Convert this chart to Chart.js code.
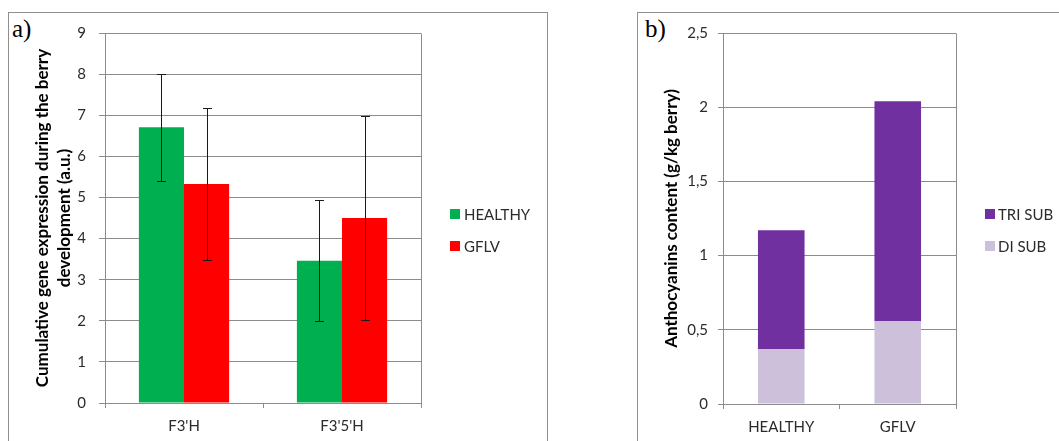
<!DOCTYPE html>
<html>
<head>
<meta charset="utf-8">
<script src="https://cdn.jsdelivr.net/npm/chart.js@4/dist/chart.umd.min.js"></script>
<style>
  html, body { margin: 0; padding: 0; background: #fff; }
  #fig { position: relative; width: 1059px; height: 441px; overflow: hidden; background: #fff; }
  .panel { position: absolute; border: 1px solid #8f8f8f; box-sizing: border-box; }
  #panelA { left: 8px; top: 12px; width: 540px; height: 440px; }
  #panelB { left: 637px; top: 12px; width: 440px; height: 440px; }
  .tag { position: absolute; font-family: "Liberation Serif", "Times New Roman", serif;
         font-size: 25px; line-height: 25px; color: #000; }
  #chartA { position: absolute; left: 0; top: 0; }
  #chartB { position: absolute; left: 560px; top: 0; }
</style>
</head>
<body>
<div id="fig">
  <div class="panel" id="panelA"></div>
  <div class="panel" id="panelB"></div>
  <div class="tag" style="left:12px; top:16px;">a)</div>
  <div class="tag" style="left:645px; top:16px;">b)</div>
  <canvas id="chartA" width="560" height="441"></canvas>
  <canvas id="chartB" width="499" height="441"></canvas>
</div>
<script>
// Panel a: cumulative expression of the two hydroxylase genes
const categoriesA = ["F3'H", "F3'5'H"];
const healthyExpr = [6.71, 3.46];
const healthyErr  = [1.30, 1.47];
const gflvExpr    = [5.33, 4.50];
const gflvErr     = [1.85, 2.49];
const yTicksA     = ['0', '1', '2', '3', '4', '5', '6', '7', '8', '9'];

// Panel b: anthocyanin content split by substitution type
const categoriesB = ['HEALTHY', 'GFLV'];
const diSub       = [0.37, 0.56];
const triSub      = [0.80, 1.48];
const yTicksB     = ['0', '0,5', '1', '1,5', '2', '2,5'];

const GRID = '#8c8c8c';
const TICK_TEXT = '#2b2b2b';
const FONT = 'Lato, "Open Sans", sans-serif';
const TITLE_FONT = { family: FONT, size: 17, weight: 'bold', lineHeight: 22 / 17 };

// Vertical error bars with caps, taken from each dataset's `errors` array
const errorBars = {
  id: 'errorBars',
  afterDatasetsDraw(chart) {
    const { ctx } = chart;
    const yScale = chart.scales.y;
    chart.data.datasets.forEach((ds, i) => {
      if (!ds.errors) return;
      chart.getDatasetMeta(i).data.forEach((bar, j) => {
        const v = ds.data[j], e = ds.errors[j];
        const x = Math.round(bar.x) + 0.5;
        const top = Math.round(yScale.getPixelForValue(v + e)) + 0.5;
        const bot = Math.round(yScale.getPixelForValue(v - e)) + 0.5;
        ctx.save();
        ctx.strokeStyle = '#1a1a1a';
        ctx.lineWidth = 1;
        ctx.beginPath();
        ctx.moveTo(x, top); ctx.lineTo(x, bot);
        ctx.moveTo(x - 4.5, top); ctx.lineTo(x + 4.5, top);
        ctx.moveTo(x - 4.5, bot); ctx.lineTo(x + 4.5, bot);
        ctx.stroke();
        ctx.restore();
      });
    });
  }
};

// Right-hand edge of the plot area
const plotFrame = {
  id: 'plotFrame',
  beforeDatasetsDraw(chart) {
    const { ctx, chartArea: a } = chart;
    const x = Math.round(a.right) + 0.5;
    ctx.save();
    ctx.strokeStyle = GRID;
    ctx.lineWidth = 1;
    ctx.beginPath();
    ctx.moveTo(x, Math.round(a.top) + 0.5);
    ctx.lineTo(x, Math.round(a.bottom) + 0.5);
    ctx.stroke();
    ctx.restore();
  }
};

// Legend with square swatches placed beside the plot
const sideLegend = {
  id: 'sideLegend',
  afterDraw(chart, args, o) {
    const { ctx } = chart;
    const items = chart.data.datasets.map(d => ({ label: d.label, color: d.backgroundColor }));
    if (o.reverse) items.reverse();
    ctx.save();
    ctx.font = '15px ' + FONT;
    ctx.textBaseline = 'middle';
    ctx.textAlign = 'left';
    items.forEach((it, i) => {
      const cy = o.y + i * o.gap;
      ctx.fillStyle = it.color;
      ctx.fillRect(o.x, Math.round(cy - o.box / 2), o.box, o.box);
      ctx.fillStyle = TICK_TEXT;
      ctx.fillText(it.label, o.textX, cy + 1);
    });
    ctx.restore();
  }
};

function build() {
  new Chart(document.getElementById('chartA'), {
    type: 'bar',
    data: {
      labels: categoriesA,
      datasets: [
        { label: 'HEALTHY', data: healthyExpr, errors: healthyErr, backgroundColor: '#00b050',
          categoryPercentage: 0.571, barPercentage: 1.0, borderWidth: 0 },
        { label: 'GFLV', data: gflvExpr, errors: gflvErr, backgroundColor: '#ff0000',
          categoryPercentage: 0.571, barPercentage: 1.0, borderWidth: 0 }
      ]
    },
    options: {
      responsive: false,
      animation: false,
      layout: { padding: { left: 0, top: 33, right: 139, bottom: 0 } },
      plugins: {
        legend: { display: false },
        tooltip: { enabled: false },
        sideLegend: { x: 450, y: 214, gap: 32, box: 10, textX: 464 }
      },
      scales: {
        x: {
          afterFit: s => { s.height = 38; },
          grid: { display: true, drawOnChartArea: false, drawTicks: true, tickLength: 5,
                  color: GRID, tickColor: GRID, offset: true },
          border: { display: true, color: GRID },
          ticks: { font: { family: FONT, size: 15 }, color: TICK_TEXT, padding: 9 }
        },
        y: {
          min: 0, max: 9,
          afterFit: s => { s.width = 105; },
          grid: { color: GRID, tickColor: GRID, drawTicks: true, tickLength: 6 },
          border: { display: true, color: GRID },
          ticks: { stepSize: 1, padding: 13, font: { family: FONT, size: 15 }, color: TICK_TEXT,
                   callback: (v, i) => yTicksA[i] },
          title: {
            display: true,
            text: ['Cumulative gene expression during the berry', 'development (a.u.)'],
            font: TITLE_FONT,
            color: '#000',
            padding: { top: 32, bottom: 0 }
          }
        }
      }
    },
    plugins: [plotFrame, errorBars, sideLegend]
  });

  new Chart(document.getElementById('chartB'), {
    type: 'bar',
    data: {
      labels: categoriesB,
      datasets: [
        { label: 'DI SUB', data: diSub, backgroundColor: '#ccc0da',
          categoryPercentage: 0.40, barPercentage: 1.0, borderWidth: 0 },
        { label: 'TRI SUB', data: triSub, backgroundColor: '#7030a0',
          categoryPercentage: 0.40, barPercentage: 1.0, borderWidth: 0 }
      ]
    },
    options: {
      responsive: false,
      animation: false,
      layout: { padding: { left: 0, top: 33, right: 103, bottom: 0 } },
      plugins: {
        legend: { display: false },
        tooltip: { enabled: false },
        sideLegend: { x: 425, y: 214, gap: 32, box: 10, textX: 438, reverse: true }
      },
      scales: {
        x: {
          stacked: true,
          afterFit: s => { s.height = 37; },
          grid: { display: true, drawOnChartArea: false, drawTicks: true, tickLength: 5,
                  color: GRID, tickColor: GRID, offset: true },
          border: { display: true, color: GRID },
          ticks: { font: { family: FONT, size: 15 }, color: TICK_TEXT, padding: 9 }
        },
        y: {
          stacked: true,
          min: 0, max: 2.5,
          afterFit: s => { s.width = 163; },
          grid: { color: GRID, tickColor: GRID, drawTicks: true, tickLength: 5 },
          border: { display: true, color: GRID },
          ticks: { stepSize: 0.5, padding: 10, font: { family: FONT, size: 15 }, color: TICK_TEXT,
                   callback: (v, i) => yTicksB[i] },
          title: {
            display: true,
            text: 'Anthocyanins content (g/kg berry)',
            font: TITLE_FONT,
            color: '#000',
            padding: { top: 101, bottom: 0 }
          }
        }
      }
    },
    plugins: [plotFrame, sideLegend]
  });
}

Promise.all([
  document.fonts.load('15px Lato'),
  document.fonts.load('bold 17px Lato')
]).then(build, build);
</script>
</body>
</html>
